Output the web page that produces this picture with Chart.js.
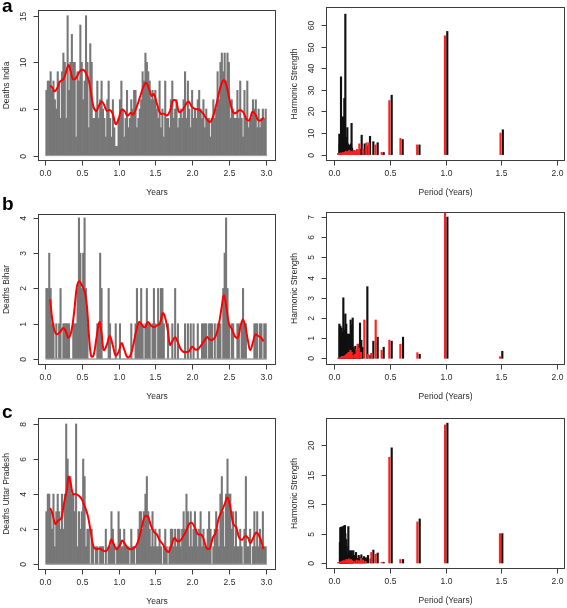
<!DOCTYPE html>
<html><head><meta charset="utf-8">
<script src="https://cdn.jsdelivr.net/npm/chart.js@4.4.0/dist/chart.umd.min.js"></script>
<style>
html,body{margin:0;padding:0;background:#fff;}
#wrap{position:relative;width:567px;height:608px;overflow:hidden;}
canvas{position:absolute;left:0;top:0;}
</style></head><body><div id="wrap">
<canvas id="c1" width="567" height="608"></canvas>
<canvas id="c2" width="567" height="608"></canvas>
<canvas id="c3" width="567" height="608"></canvas>
<canvas id="c4" width="567" height="608"></canvas>
<canvas id="c5" width="567" height="608"></canvas>
<canvas id="c6" width="567" height="608"></canvas>
</div>
<script>
// ---------- DATA ----------
// weekly deaths (156 weeks = 3 years)
const indiaDeaths = [
 7,8,8,9,7,8,6,5,9,8,4,9,11,
 10,4,15,7,10,13,10,10,2,9,8,14,10,
 6,8,15,10,3,12,10,4,4,5,8,4,6,
 8,5,4,2,6,8,4,2,6,3,1,1,4,
 6,8,5,2,4,7,3,4,6,5,7,7,3,
 4,5,6,9,8,11,10,9,8,6,7,6,7,
 5,4,8,3,5,2,8,4,4,3,6,8,4,
 5,6,3,4,5,4,6,9,4,8,5,3,7,
 4,5,4,6,7,5,4,6,3,5,4,4,2,
 4,6,4,5,9,6,10,11,9,11,8,11,10,
 4,6,5,4,4,7,4,8,4,2,7,4,8,
 3,4,4,6,5,6,3,5,3,4,5,4,5];
const biharDeaths = [
 2,2,3,2,1,1,0,1,0,1,2,0,1,
 1,1,1,1,0,0,1,1,1,2,4,3,2,
 3,4,2,1,0,0,0,0,0,0,1,1,3,
 2,0,0,0,0,2,1,0,0,0,1,0,0,
 1,0,0,0,0,0,0,0,1,0,0,1,2,
 1,1,2,1,0,1,2,1,1,0,1,2,1,
 0,2,1,2,2,1,0,0,1,0,0,1,0,
 2,0,1,0,0,0,0,1,0,1,0,1,0,
 1,0,0,1,0,0,1,1,1,1,0,1,1,
 1,0,1,0,1,1,1,0,2,3,4,2,1,
 0,1,1,0,0,1,1,0,1,2,1,1,0,
 0,0,0,0,1,1,1,0,1,1,0,1,1];
const upDeaths = [
 3,4,4,3,2,4,1,3,4,3,2,4,2,
 4,8,6,5,5,4,4,3,8,1,3,2,3,
 6,5,1,2,2,0,2,1,0,1,1,0,1,
 1,1,0,2,0,1,1,3,2,1,0,1,3,
 2,1,1,2,1,1,1,0,2,1,1,0,1,
 2,3,3,2,3,4,5,3,2,1,3,1,2,
 1,1,2,1,0,1,2,1,0,1,2,2,1,
 2,1,2,2,1,2,3,2,4,3,1,3,1,
 2,3,2,1,2,3,1,2,1,1,2,3,2,
 0,1,2,3,2,1,4,5,3,1,4,6,4,
 4,2,3,1,3,1,1,2,1,0,2,5,1,
 1,2,0,1,3,1,3,1,2,1,3,1,1];

// smoothed trend (red curves)
const indiaTrendYears = [0.07,0.1,0.13,0.17,0.2,0.25,0.28,0.32,0.35,0.38,0.42,0.47,0.52,0.56,0.6,0.63,0.66,0.7,0.73,0.77,0.8,0.84,0.88,0.92,0.96,1.0,1.04,1.08,1.12,1.17,1.2,1.25,1.3,1.35,1.38,1.42,1.45,1.48,1.52,1.57,1.62,1.66,1.7,1.74,1.78,1.82,1.86,1.9,1.95,2.0,2.05,2.1,2.15,2.2,2.24,2.28,2.33,2.38,2.43,2.47,2.52,2.56,2.6,2.65,2.7,2.74,2.78,2.82,2.86,2.9,2.94,2.97];
const indiaTrend = [7.5,7.3,6.9,7.3,7.9,8.2,8.8,9.7,9.0,8.2,8.3,9.0,9.2,8.8,7.9,6.5,5.2,4.8,5.3,5.8,5.5,4.8,4.9,4.5,3.4,3.9,4.9,4.8,4.3,4.6,4.4,5.3,6.5,7.6,7.8,7.0,6.4,6.6,5.6,4.5,4.5,4.3,4.8,5.9,5.9,4.7,4.8,5.3,5.8,5.2,5.0,4.9,4.5,3.9,3.6,4.1,5.5,7.2,8.1,7.4,5.6,4.6,4.6,4.9,4.6,3.9,3.8,4.7,4.4,3.8,3.8,4.1];
const biharTrendYears = [0.07,0.1,0.13,0.16,0.2,0.25,0.28,0.32,0.36,0.4,0.43,0.46,0.5,0.54,0.57,0.6,0.63,0.66,0.7,0.74,0.77,0.8,0.84,0.88,0.92,0.96,1.0,1.04,1.08,1.12,1.16,1.2,1.24,1.28,1.32,1.36,1.4,1.44,1.48,1.52,1.56,1.6,1.63,1.67,1.7,1.73,1.77,1.8,1.84,1.88,1.92,1.96,2.0,2.04,2.08,2.12,2.16,2.2,2.24,2.28,2.32,2.36,2.4,2.43,2.46,2.5,2.54,2.58,2.62,2.66,2.69,2.72,2.76,2.79,2.83,2.86,2.9,2.94,2.97];
const biharTrend = [1.7,1.1,0.8,0.7,0.75,0.88,0.8,0.6,0.8,1.4,2.0,2.2,2.1,1.9,1.5,0.6,0.07,0.1,0.6,1.05,0.7,0.25,0.4,0.65,0.4,0.1,0.2,0.45,0.25,0.05,0.1,0.4,0.8,1.05,0.95,0.9,1.05,0.95,0.9,0.95,1.0,1.3,1.2,0.8,0.4,0.5,0.62,0.5,0.3,0.2,0.2,0.22,0.35,0.27,0.28,0.38,0.5,0.62,0.55,0.55,0.65,0.95,1.45,1.8,1.55,1.0,0.85,0.65,0.6,0.95,1.12,0.95,0.5,0.25,0.5,0.7,0.65,0.6,0.5];
const upTrendYears = [0.07,0.1,0.14,0.18,0.22,0.26,0.3,0.32,0.35,0.38,0.42,0.46,0.5,0.54,0.58,0.62,0.66,0.7,0.74,0.78,0.83,0.87,0.9,0.93,0.97,1.02,1.05,1.08,1.12,1.16,1.2,1.24,1.28,1.32,1.36,1.4,1.44,1.48,1.52,1.56,1.6,1.64,1.68,1.72,1.76,1.8,1.84,1.88,1.92,1.96,2.0,2.04,2.08,2.12,2.15,2.2,2.24,2.28,2.32,2.36,2.4,2.44,2.48,2.52,2.56,2.6,2.64,2.68,2.72,2.76,2.79,2.83,2.87,2.9,2.94,2.97];
const upTrend = [3.2,2.9,2.3,2.5,2.6,3.5,4.3,5.0,4.6,4.0,4.0,3.9,3.7,3.3,2.8,1.9,1.0,0.85,0.9,0.8,0.75,1.0,1.4,1.2,0.85,1.1,1.35,1.2,0.95,0.85,0.9,1.05,1.5,2.2,2.75,2.7,2.2,1.85,1.7,1.35,1.15,0.85,0.7,1.1,1.5,1.3,1.35,1.6,1.9,2.3,2.35,2.05,1.7,1.7,1.5,0.9,0.9,1.5,1.8,2.6,3.0,3.4,3.8,3.2,2.3,2.1,1.5,1.4,1.6,1.5,1.2,1.5,1.8,1.7,1.3,0.85];

// harmonic strengths (period in years)
const indiaHarmPeriodObs = [0.045,0.048,0.051,0.054,0.057,0.06,0.063,0.066,0.069,0.072,0.075,0.078,0.081,0.084,0.087,0.09,0.093,0.096,0.099,0.102,0.105,0.108,0.111,0.114,0.117,0.12,0.124,0.128,0.132,0.136,0.14,0.145,0.15,0.155,0.16,0.165,0.17,0.18,0.19,0.2,0.21,0.22,0.232,0.246,0.273,0.297,0.321,0.351,0.39,0.444,0.516,0.615,0.766,1.016,1.516];
const indiaHarmObs = [9.5,5,6,7,8,36,16,15,16,8,10,17.5,9,7,8,26,8,6,65,7,5,8,4,6,12.5,5,4,3,4.5,2,3,2.5,5,14.5,3,2,1.5,2,1,1.5,2,1.5,2.5,9,5,4,8.5,6,5.5,1,27.5,7,4.5,57,11.5];
const indiaHarmPeriodFit = [0.035,0.045,0.055,0.065,0.075,0.085,0.095,0.105,0.115,0.125,0.135,0.145,0.155,0.165,0.175,0.185,0.195,0.205,0.215,0.225,0.26,0.29,0.31,0.37,0.426,0.495,0.595,0.745,0.995,1.495];
const indiaHarmFit = [0.6,0.5,0.8,0.6,1,0.8,1.2,1.5,1,1.5,2,1,1.5,1,2,1.5,1,2.5,1.5,5,2.5,5.5,5.5,4.5,1,25,7.5,4.5,55,10];

const biharHarmPeriodObs = [0.045,0.05,0.055,0.06,0.065,0.07,0.075,0.081,0.085,0.09,0.095,0.099,0.103,0.107,0.111,0.115,0.12,0.123,0.128,0.135,0.14,0.147,0.152,0.158,0.165,0.172,0.177,0.183,0.189,0.2,0.213,0.22,0.231,0.243,0.255,0.297,0.324,0.351,0.39,0.444,0.516,0.618,0.768,1.017,1.511];
const biharHarmObs = [1.7,1.5,1.6,1.2,1.5,1.2,1.3,3.0,1.2,1.2,1.4,2.2,1.5,1.7,1.2,0.7,1.15,1.2,0.7,1.2,0.9,1.9,1.65,0.5,2.0,0.55,0.3,0.4,0.6,0.3,0.7,0.5,1.75,0.9,0.55,3.55,0.15,0.85,1.05,0.55,0.85,1.05,0.2,7.0,0.35];
const biharHarmPeriodFit = [0.035,0.05,0.06,0.07,0.08,0.09,0.1,0.11,0.12,0.13,0.14,0.145,0.155,0.165,0.185,0.2,0.21,0.22,0.24,0.27,0.3,0.333,0.372,0.426,0.495,0.594,0.747,0.996,1.49];
const biharHarmFit = [0.02,0.05,0.05,0.1,0.1,0.1,0.15,0.2,0.25,0.3,0.3,0.4,0.3,0.15,0.2,0.45,0.7,0.5,0.3,1.9,0.2,0.25,1.9,0.4,0.9,0.7,0.28,7.3,0.08];

const upHarmPeriodObs = [0.05,0.054,0.058,0.062,0.066,0.07,0.074,0.078,0.082,0.087,0.091,0.095,0.099,0.103,0.107,0.111,0.115,0.12,0.126,0.133,0.141,0.149,0.156,0.163,0.171,0.18,0.195,0.207,0.219,0.23,0.243,0.255,0.267,0.285,0.303,0.327,0.351,0.39,0.444,0.516,0.618,0.768,1.017,1.511];
const upHarmObs = [3.5,6,6.1,5.8,6,5.5,6.2,5.8,6.0,6.3,5.5,6.4,5,3,4,2.8,1.5,1.2,6.2,1.5,2.1,1.5,2.1,1.2,2.1,1.3,1.8,0.8,1.3,0.9,1.4,0.8,1.1,0.9,1.3,0.7,2.2,1.7,0.1,19.6,0.6,7.5,23.8,5.0];
const upHarmPeriodFit = [0.035,0.05,0.06,0.07,0.08,0.09,0.1,0.11,0.12,0.13,0.14,0.15,0.16,0.18,0.2,0.22,0.24,0.26,0.28,0.333,0.372,0.426,0.495,0.594,0.747,0.996,1.49];
const upHarmFit = [0.1,0.15,0.2,0.3,0.4,0.3,0.5,0.6,0.4,0.7,0.5,0.6,0.4,0.3,0.5,0.4,0.8,0.5,0.3,1.8,1.5,0.1,18.0,0.6,7.0,23.5,5.0];

// tick labels
const yearTicks = [0.0,0.5,1.0,1.5,2.0,2.5,3.0];
const periodTicks = [0.0,0.5,1.0,1.5,2.0];
const indiaTicks = [0,5,10,15];
const biharTicks = [0,1,2,3,4];
const upTicks = [0,2,4,6,8];
const indiaHarmTicks = [0,10,20,30,40,50,60];
const biharHarmTicks = [0,1,2,3,4,5,6,7];
const upHarmTicks = [0,5,10,15,20];

// ---------- RENDERING ----------
const W = 567, H = 608;
const FONT = '"Liberation Sans", Arial, Helvetica, sans-serif';

const rPlot = {
  id: 'rPlot',
  afterDraw(chart, args, o) {
    const ctx = chart.ctx, a = chart.chartArea, xs = chart.scales.x, ys = chart.scales.y;
    ctx.save();
    ctx.strokeStyle = '#3c3c3c'; ctx.lineWidth = 1;
    const L = Math.round(a.left) + 0.5, T = Math.round(a.top) + 0.5, R = Math.round(a.right) - 0.5, B = Math.round(a.bottom) - 0.5;
    ctx.strokeRect(L, T, R - L, B - T);
    ctx.fillStyle = '#2a2a2a';
    ctx.font = '8.5px ' + FONT;
    ctx.textAlign = 'center'; ctx.textBaseline = 'middle';
    o.xTicks.forEach(v => {
      const px = Math.round(xs.getPixelForValue(v)) + 0.5;
      ctx.beginPath(); ctx.moveTo(px, B); ctx.lineTo(px, B + 5); ctx.stroke();
      ctx.fillText(v.toFixed(1), px, B + 13);
    });
    o.yTicks.forEach(v => {
      const py = Math.round(ys.getPixelForValue(v)) + 0.5;
      ctx.beginPath(); ctx.moveTo(L, py); ctx.lineTo(L - 5, py); ctx.stroke();
      ctx.save(); ctx.translate(L - 14.5, py); ctx.rotate(-Math.PI / 2);
      ctx.fillText(String(v), 0, 0); ctx.restore();
    });
    ctx.fillText(o.xTitle, (L + R) / 2, B + 32);
    ctx.save(); ctx.translate(L - 31.5, (T + B) / 2); ctx.rotate(-Math.PI / 2);
    ctx.fillText(o.yTitle, 0, 0); ctx.restore();
    if (o.letter) {
      ctx.fillStyle = '#000';
      ctx.font = 'bold 19px ' + FONT;
      ctx.textAlign = 'left'; ctx.textBaseline = 'alphabetic';
      ctx.fillText(o.letter, o.letterX, o.letterY);
    }
    ctx.restore();
  }
};

function pts(xsArr, ysArr) { return xsArr.map((x, i) => ({ x: x, y: ysArr[i] })); }

function baseOptions(box, xr, yr, plot) {
  return {
    responsive: false, animation: false, devicePixelRatio: 1, events: [],
    layout: { padding: { left: box.l, top: box.t, right: W - box.r, bottom: H - box.b } },
    plugins: { legend: { display: false }, tooltip: { enabled: false }, rPlot: plot },
    scales: {
      x: { type: 'linear', min: xr[0], max: xr[1], display: false, offset: false },
      y: { type: 'linear', min: yr[0], max: yr[1], display: false }
    }
  };
}

function deathsChart(id, deaths, trendT, trendV, box, yr, yTicks, yTitle, letter, letterY) {
  const years = deaths.map((_, i) => (i + 1) / 52);
  new Chart(document.getElementById(id), {
    type: 'bar',
    plugins: [rPlot],
    data: { datasets: [
      { type: 'line', data: pts(trendT, trendV), borderColor: '#ff0000', borderWidth: 2, pointRadius: 0, tension: 0.4, fill: false },
      { type: 'line', data: [{ x: years[0], y: 0 }, { x: years[years.length - 1] + 1 / 52, y: 0 }], borderColor: '#a8a8a8', borderWidth: 1, pointRadius: 0, fill: false },
      { type: 'bar', data: pts(years, deaths), backgroundColor: '#777777', borderWidth: 0, barPercentage: 1, categoryPercentage: 1 }
    ] },
    options: baseOptions(box, [-0.095, 3.14], yr,
      { xTicks: yearTicks, yTicks: yTicks, xTitle: 'Years', yTitle: yTitle, letter: letter, letterX: 2, letterY: letterY })
  });
}

function harmChart(id, pObs, vObs, pFit, vFit, box, yr, yTicks) {
  new Chart(document.getElementById(id), {
    type: 'bar',
    plugins: [rPlot],
    data: { datasets: [
      { data: pts(pFit, vFit), backgroundColor: '#ff2020', borderWidth: 0, barThickness: 1.5, grouped: false },
      { data: pts(pObs, vObs), backgroundColor: '#111111', borderWidth: 0, barThickness: 1.5, grouped: false }
    ] },
    options: baseOptions(box, [-0.075, 2.075], yr,
      { xTicks: periodTicks, yTicks: yTicks, xTitle: 'Period (Years)', yTitle: 'Harmonic Strength' })
  });
}

deathsChart('c1', indiaDeaths, indiaTrendYears, indiaTrend, { l: 38, r: 276, t: 10, b: 161 }, [-0.57, 15.61], indiaTicks, 'Deaths India', 'a', 12);
harmChart('c2', indiaHarmPeriodObs, indiaHarmObs, indiaHarmPeriodFit, indiaHarmFit, { l: 326, r: 565, t: 7, b: 161 }, [-2.95, 68.3], indiaHarmTicks);
deathsChart('c3', biharDeaths, biharTrendYears, biharTrend, { l: 38, r: 276, t: 214, b: 365 }, [-0.17, 4.11], biharTicks, 'Deaths Bihar', 'b', 210);
harmChart('c4', biharHarmPeriodObs, biharHarmObs, biharHarmPeriodFit, biharHarmFit, { l: 326, r: 565, t: 212, b: 365 }, [-0.33, 7.25], biharHarmTicks);
deathsChart('c5', upDeaths, upTrendYears, upTrend, { l: 38, r: 276, t: 418, b: 570 }, [-0.33, 8.34], upTicks, 'Deaths Uttar Pradesh', 'c', 418);
harmChart('c6', upHarmPeriodObs, upHarmObs, upHarmPeriodFit, upHarmFit, { l: 326, r: 565, t: 418, b: 569 }, [-1.02, 24.68], upHarmTicks);
</script>
</body></html>
